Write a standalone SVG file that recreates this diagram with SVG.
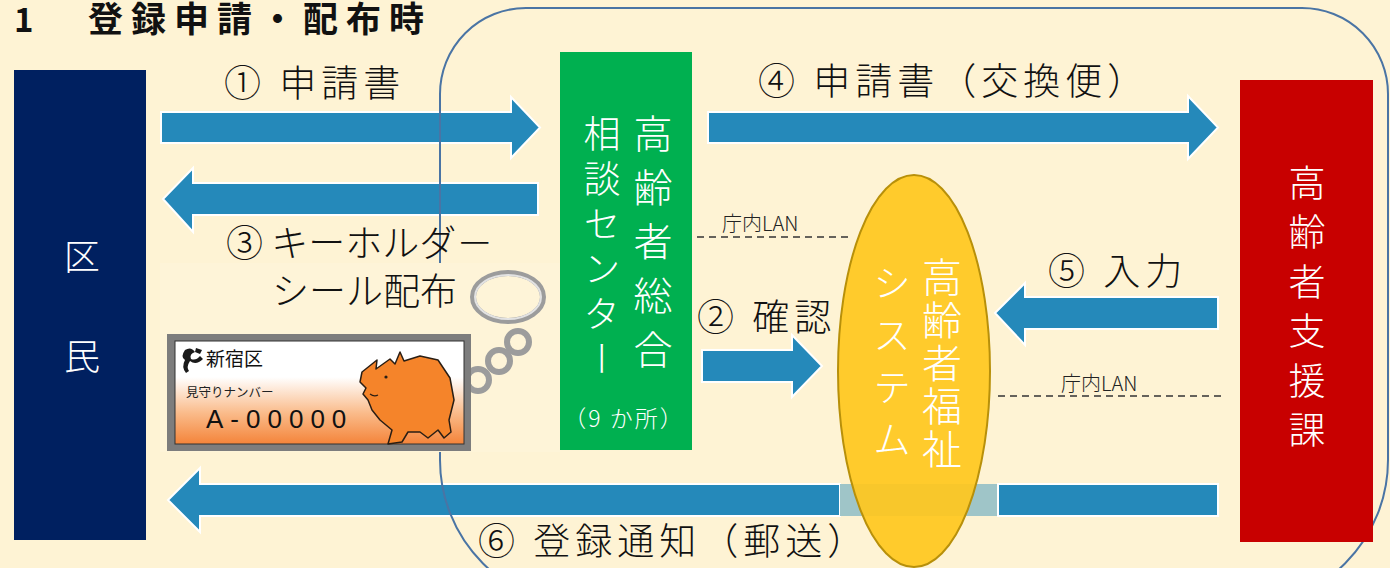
<svg xmlns="http://www.w3.org/2000/svg" width="1390" height="568" viewBox="0 0 1390 568">
  <defs>
    <style>
      .jp { font-family: "Noto Sans CJK JP", "Noto Sans", sans-serif; }
      .lbl { font-size: 37px; fill: #111; font-weight: 300; letter-spacing: 5px; }
      .tight { letter-spacing: 0px; }
      .lan { font-size: 20px; fill: #222; font-weight: 300; }
      .vt { writing-mode: vertical-rl; fill: #fff; font-weight: 300; }
      .arrow { fill: #2589BA; stroke: #fff; stroke-width: 2; }
      .dash { stroke: #333; stroke-width: 1.6; stroke-dasharray: 7 5; fill: none; }
      .ring { fill: none; stroke: #9C9C9C; stroke-width: 6; }
      .ringIn { fill: none; stroke: #E2E2E2; stroke-width: 2; }
    </style>
    <linearGradient id="cardFill" x1="0" y1="0" x2="0" y2="1">
      <stop offset="0" stop-color="#FFFFFF"/>
      <stop offset="0.35" stop-color="#FFFFFF"/>
      <stop offset="0.7" stop-color="#FABB8A"/>
      <stop offset="1" stop-color="#F4843A"/>
    </linearGradient>
  </defs>

  <!-- background -->
  <rect x="0" y="0" width="1390" height="568" fill="#FEF3D4"/>

  <!-- title -->
  <text class="jp" x="14" y="32" font-size="33" font-weight="bold" fill="#111">1</text>
  <text class="jp" x="88" y="32" font-size="35" font-weight="bold" fill="#111" letter-spacing="8">登録申請・配布時</text>

  <!-- connectors -->
  <g id="connectors">
    <path class="arrow" d="M161,112 H511 V97 L540,127.5 L511,158 V143 H161 Z"/>
    <path class="arrow" d="M538,183 H193 V168 L163,199 L193,232 V215 H538 Z"/>
    <path class="arrow" d="M708,112 H1188 V96 L1218,127.5 L1188,159 V143 H708 Z"/>
    <path class="arrow" d="M702,350 H792 V335 L822,366 L792,397 V382 H702 Z"/>
    <path class="arrow" d="M1218,297 H1025 V283 L995,313 L1025,345 V329 H1218 Z"/>
    <path class="arrow" d="M840,484 H200 V468 L168,500 L200,532 V516 H840 Z"/>
    <rect x="840" y="484" width="158" height="32" fill="#9FC5C8"/>
    <rect class="arrow" x="998" y="484" width="220" height="32"/>
    <line class="dash" x1="697" y1="237" x2="850" y2="237"/>
    <line class="dash" x1="998" y1="396" x2="1225" y2="396"/>
  </g>

  <!-- office boundary -->
  <path d="M526,8 H1302 A86,86 0 0 1 1388,94 V460 A146,146 0 0 1 1242,606 H586 A146,146 0 0 1 440,460 V94 A86,86 0 0 1 526,8 Z" fill="none" stroke="#4A74A4" stroke-width="2"/>

  <!-- key holder sticker -->
  <g id="keyholder">
    <rect x="160" y="263" width="400" height="189" fill="#FEF4D8"/>
    <ellipse class="ring" cx="508" cy="297" rx="35" ry="24"/>
    <ellipse class="ringIn" cx="508" cy="297" rx="33" ry="22"/>
    <circle class="ring" cx="518" cy="342" r="11"/>
    <circle class="ring" cx="499" cy="361" r="11"/>
    <circle class="ring" cx="478" cy="380" r="11"/>
    <rect x="167" y="334" width="304" height="117" fill="#7D7D7D"/>
    <rect x="175" y="341" width="289" height="103" fill="url(#cardFill)" stroke="#333" stroke-width="1"/>
    <path d="M185,350 q6,-4 10,2 q-6,2 -4,7 q5,2 9,-3 l3,3 q-7,7 -13,2 q-4,6 -1,10 l-3,2 q-5,-6 -1,-13 q-5,-3 0,-10 Z M196,348 l6,2 l-2,4 l-5,-2 Z" fill="#1A1A1A"/>
    <text class="jp" x="206" y="366" font-size="19" fill="#111">新宿区</text>
    <text class="jp" x="186" y="397" font-size="12.5" fill="#222">見守りナンバー</text>
    <text x="206" y="428" font-family="Liberation Sans, sans-serif" font-size="26" letter-spacing="7" fill="#111">A-00000</text>
    <path d="M362,372 L377,360 L376,369 L390,359 L395,364 L400,352 L404,361 L420,356 L438,360 L450,378 L454,400 L449,420 L451,432 L444,438 L438,430 L428,438 L420,432 L408,432 L402,442 L388,444 L392,430 L380,420 L372,410 L368,400 L363,394 L366,388 L360,382 Z" fill="#F5842A" stroke="#2A1E14" stroke-width="1.5" stroke-linejoin="round"/>
    <path d="M370,394 q4,3 8,1" fill="none" stroke="#2A1E14" stroke-width="1.2"/>
    <circle cx="386" cy="377" r="1.6" fill="#2A1E14"/>
  </g>

  <!-- connector labels -->
  <g id="labels" class="jp">
    <text class="lbl" x="224" y="97">① 申請書</text>
    <text class="lbl" x="758" y="95">④ 申請書（交換便）</text>
    <text class="lbl tight" x="226" y="257">③ キーホルダ－</text>
    <text class="lbl tight" x="272" y="305">シール配布</text>
    <text class="lbl" x="697" y="331">② 確認</text>
    <text class="lbl" x="1048" y="285">⑤ 入力</text>
    <text class="lbl" x="478" y="555">⑥ 登録通知（郵送）</text>
    <text class="lan" x="722" y="231">庁内LAN</text>
    <text class="lan" x="1061" y="391">庁内LAN</text>
  </g>

  <!-- 区民 -->
  <g id="kumin">
    <rect x="14" y="70" width="132" height="470" fill="#002060"/>
    <text class="jp" x="82" y="270" font-size="36" font-weight="300" fill="#fff" text-anchor="middle">区</text>
    <text class="jp" x="82" y="370" font-size="36" font-weight="300" fill="#fff" text-anchor="middle">民</text>
  </g>

  <!-- 高齢者総合相談センター -->
  <g id="center">
    <rect x="560" y="52" width="132" height="398" fill="#00B050"/>
    <text class="jp vt" x="653" y="114" font-size="39" letter-spacing="15">高齢者総合</text>
    <text class="jp vt" x="602" y="115" font-size="37" letter-spacing="8">相談センター</text>
    <text class="jp" x="624" y="427" font-size="23" font-weight="300" fill="#fff" text-anchor="middle" letter-spacing="2">（9 か所）</text>
  </g>

  <!-- 高齢者福祉システム -->
  <g id="system">
    <ellipse cx="914" cy="371" rx="76" ry="196" fill="#FFC71F" fill-opacity="0.93" stroke="#B8900A" stroke-width="2"/>
    <text class="jp vt" x="942" y="257" font-size="40" letter-spacing="3">高齢者福祉</text>
    <text class="jp vt" x="892" y="264" font-size="38" letter-spacing="14">システム</text>
  </g>

  <!-- 高齢者支援課 -->
  <g id="shienka">
    <rect x="1240" y="80" width="133" height="462" fill="#C80000"/>
    <text class="jp vt" x="1307" y="164" font-size="37" letter-spacing="12.5">高齢者支援課</text>
  </g>
</svg>
